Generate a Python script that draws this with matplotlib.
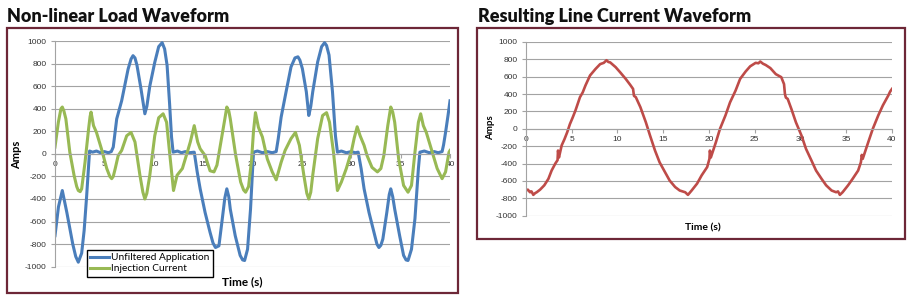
import numpy as np
import pandas as pd
import matplotlib.pyplot as plt
from matplotlib.patches import Rectangle

plt.rcParams['axes.unicode_minus'] = False

# unfiltered application current (blue)
blue_t = [0, 0.35, 0.74, 1.2, 1.8, 2.1, 2.36, 2.7, 2.95, 3.2, 3.5, 3.8, 4.2, 4.6, 5.0, 5.4, 5.7, 5.9,
          6.25, 6.75, 7.4, 7.7, 7.9, 8.1, 8.3, 8.7, 9.1, 9.3, 9.6, 10.1, 10.5, 10.85, 11.1, 11.35, 11.6,
          11.8, 11.96, 12.4, 12.8, 13.2, 13.6, 14.1, 14.4, 14.7, 15.2, 15.7, 16.0, 16.25, 16.6, 16.9,
          17.2, 17.4, 17.6, 17.75, 18.25, 18.75, 19.0, 19.2, 19.5, 19.8, 20.1, 20.5, 21.0, 21.5, 22.0,
          22.4, 22.6, 22.9, 23.4, 23.9, 24.3, 24.6, 24.8, 25.05, 25.45, 25.7, 25.9, 26.1, 26.6, 27.0,
          27.3, 27.5, 27.75, 28.1, 28.4, 28.6, 29.0, 29.5, 30.0, 30.4, 30.7, 31.0, 31.3, 31.8, 32.3,
          32.6, 32.8, 33.0, 33.2, 33.6, 33.85, 34.0, 34.2, 34.4, 34.9, 35.3, 35.55, 35.75, 36.1, 36.45,
          36.8, 36.95, 37.4, 37.9, 38.4, 38.8, 39.2, 39.35, 39.55, 39.8, 40.0]
blue_v = [-725, -470, -325, -520, -800, -910, -960, -880, -680, -380, 25, 15, 25, 10, 20, 10, 20, 60,
          310, 470, 750, 840, 870, 850, 785, 580, 355, 420, 600, 810, 950, 985, 930, 785, 450,
          150, 15, 25, 10, 20, 10, 15, -160, -310, -520, -695, -790, -830, -815, -605,
          -390, -310, -380, -490, -725, -900, -940, -945, -845, -490, 15, 25, 10, 20, 10,
          20, 130, 325, 550, 770, 850, 860, 830, 755, 550, 340, 420, 550, 815, 950,
          985, 960, 875, 550, 160, 15, 25, 10, 20, 10, 15, -130, -310, -520, -695,
          -800, -830, -810, -755, -520, -360, -310, -380, -490, -725, -900, -940, -945, -845, -575,
          -130, 15, 25, 10, 20, 10, 20, 80, 190, 340, 470]

# injection current (green)
green_t = [0, 0.34, 0.6, 0.74, 0.9, 1.1, 1.5, 1.93, 2.2, 2.36, 2.55, 2.7, 3.04, 3.4, 3.55, 3.65, 3.9,
           4.2, 4.7, 5.24, 5.55, 5.74, 5.9, 6.1, 6.4, 6.75, 7.26, 7.7, 8.1, 8.6, 8.9, 9.1, 9.3, 9.6,
           10.1, 10.5, 10.95, 11.3, 11.6, 12.0, 12.36, 12.9, 13.4, 13.7, 14.1, 14.45, 14.7, 15.2, 15.7,
           16.1, 16.4, 16.8, 17.2, 17.4, 17.6, 17.75, 18.3, 18.8, 19.1, 19.3, 19.6, 19.9, 20.1, 20.3,
           20.6, 21.0, 21.5, 22.0, 22.4, 22.9, 23.3, 23.9, 24.35, 24.75, 25.2, 25.5, 25.7, 25.9, 26.1,
           26.6, 27.1, 27.5, 27.8, 28.2, 28.6, 29.0, 29.5, 30.0, 30.3, 30.6, 30.9, 31.3, 31.6, 32.1,
           32.65, 33.0, 33.3, 33.7, 34.0, 34.2, 34.4, 34.8, 35.3, 35.75, 36.1, 36.45, 36.8, 37.03, 37.3,
           37.6, 38.1, 38.7, 39.2, 39.55, 39.9, 40.0]
green_v = [60, 280, 400, 415, 380, 310, 15, -190, -290, -325, -335, -310, -75, 220, 330, 370, 250,
           190, 45, -130, -200, -220, -200, -130, -15, 30, 160, 190, 105, -190, -340, -400, -350, -190,
           160, 320, 355, 280, 15, -325, -190, -130, 15, 105, 250, 105, 45, -15, -150,
           -160, -100, 105, 310, 415, 380, 310, -15, -250, -320, -340, -290, -60, 200, 365,
           235, 150, -45, -160, -230, -75, 30, 135, 190, 75, -190, -350, -400, -340, -190,
           135, 340, 365, 280, 15, -325, -250, -130, 15, 140, 240, 160, 75, -15, -120,
           -160, -130, -15, 250, 415, 370, 280, -45, -280, -340, -280, 15, 280, 355, 250,
           190, 45, -130, -220, -160, 15, 30]

# resulting line current (red)
red_t = [0, 0.2, 0.44, 0.6, 0.8, 1.0, 1.17, 1.54, 2.0, 2.45, 2.8, 3.2, 3.45, 3.5, 3.6, 3.9, 4.2, 4.5,
         4.8, 5.1, 5.4, 5.9, 6.2, 6.5, 7.0, 7.6, 8.1, 8.5, 8.8, 9.0, 9.2, 9.8, 10.3, 10.9, 11.4, 11.7,
         11.8, 12.0, 12.5, 13.1, 13.55, 14.1, 14.6, 15.2, 15.7, 16.3, 16.8, 17.1, 17.4, 17.7, 18.1,
         18.7, 19.2, 19.8, 20.05, 20.1, 20.2, 20.75, 21.2, 21.8, 22.3, 22.9, 23.4, 24.0, 24.5, 25.1,
         25.4, 25.6, 25.9, 26.2, 26.7, 27.3, 27.9, 28.2, 28.3, 28.4, 28.6, 29.0, 29.5, 30.1, 30.6,
         31.2, 31.7, 32.3, 32.8, 33.4, 33.9, 34.1, 34.3, 34.6, 35.2, 35.7, 36.3, 36.6, 36.7, 36.8,
         37.4, 37.9, 38.5, 39.0, 39.6, 39.8, 40.0]
red_v = [-710, -700, -730, -720, -760, -740, -730, -700, -650, -575, -480, -400, -360, -250, -330,
         -190, -120, -40, 55, 130, 210, 365, 420, 500, 615, 690, 745, 760, 790, 770, 765, 710, 650,
         575, 505, 460, 380, 365, 250, 75, -75, -250, -385, -500, -595, -670, -710, -720, -730,
         -760, -710, -630, -535, -440, -345, -250, -330, -155, 0, 155, 305, 440, 575, 660, 720,
         760, 755, 775, 750, 735, 700, 630, 595, 515, 400, 360, 345, 230, 75, -75, -230, -365,
         -480, -575, -650, -710, -730, -720, -760, -730, -650, -575, -480, -385, -300, -345,
         -155, 0, 155, 270, 385, 430, 460]

y_ticks = list(range(-1000, 1001, 200))
x_ticks = [0, 5, 10, 15, 20, 25, 30, 35, 40]

blue = pd.Series(blue_v, index=blue_t)
green = pd.Series(green_v, index=green_t)
red = pd.Series(red_v, index=red_t)

W, H = 912, 300
fig = plt.figure(figsize=(W / 100, H / 100), dpi=100)
frame_col = '#6d2737'

def px(x0, y0, x1, y1):
    # pixel box (top-left origin) -> figure rect
    return [x0 / W, 1 - y1 / H, (x1 - x0) / W, (y1 - y0) / H]

def style_axes(ax):
    ax.set_xlim(0, 40)
    ax.set_ylim(-1000, 1000)
    ax.set_yticks(y_ticks)
    ax.set_xticks(x_ticks)
    ax.yaxis.grid(True, color='#a3a3a3', lw=0.8)
    ax.set_axisbelow(True)
    for s in ['top', 'right']:
        ax.spines[s].set_visible(False)
    ax.spines['bottom'].set_position(('data', 0))
    ax.spines['bottom'].set_color('#a3a3a3')
    ax.spines['left'].set_color('#a3a3a3')
    ax.tick_params(axis='both', labelsize=6, colors='#a3a3a3', labelcolor='#333333',
                   length=3, width=0.8)
    ax.tick_params(axis='x', pad=2)
    ax.tick_params(axis='y', pad=3)
    for lab in ax.get_xticklabels() + ax.get_yticklabels():
        lab.set_family('Liberation Sans')

# frames
fig.add_artist(Rectangle((7 / W, 1 - 293 / H), 451 / W, 265 / H, transform=fig.transFigure,
                         fill=False, ec=frame_col, lw=1.6))
fig.add_artist(Rectangle((477 / W, 1 - 239 / H), 428 / W, 211 / H, transform=fig.transFigure,
                         fill=False, ec=frame_col, lw=1.6))

# left chart
ax1 = fig.add_axes(px(55, 41, 450, 266.7))
ax1.plot(blue.index, blue.values, color='#4a7ebb', lw=2.2, solid_joinstyle='round',
         label='Unfiltered Application')
ax1.plot(green.index, green.values, color='#98b954', lw=2.2, solid_joinstyle='round',
         label='Injection Current')
style_axes(ax1)
leg = ax1.legend(loc='upper left', bbox_to_anchor=(87 / W, 1 - 250 / H),
                 bbox_transform=fig.transFigure, prop={'family': 'Lato', 'size': 7.3},
                 fancybox=False, framealpha=1, edgecolor='black', borderpad=0.3,
                 handlelength=1.9, handletextpad=0.2, labelspacing=0.22, borderaxespad=0)
leg.get_frame().set_linewidth(1.0)

# right chart
ax2 = fig.add_axes(px(526, 42, 892, 215.7))
ax2.plot(red.index, red.values, color='#be4b48', lw=1.9, solid_joinstyle='round')
style_axes(ax2)

# titles and axis labels
fig.text(7 / W, 1 - 21.7 / H, 'Non-linear Load Waveform', fontsize=13, family='Lato',
         weight='heavy', color='#111111', va='baseline')
fig.text(478 / W, 1 - 21.7 / H, 'Resulting Line Current Waveform', fontsize=13, family='Lato',
         weight='heavy', color='#111111', va='baseline')
fig.text(17 / W, 1 - 155 / H, 'Amps', rotation=90, fontsize=8, family='Lato', weight='bold',
         ha='center', va='center')
fig.text(491 / W, 1 - 128 / H, 'Amps', rotation=90, fontsize=7, family='Lato', weight='bold',
         ha='center', va='center')
fig.text(242 / W, 1 - 282 / H, 'Time (s)', fontsize=8.5, family='Lato', weight='bold',
         ha='center', va='center')
fig.text(703 / W, 1 - 228 / H, 'Time (s)', fontsize=7.5, family='Lato', weight='bold',
         ha='center', va='center')

plt.savefig('out.png', dpi=100)
